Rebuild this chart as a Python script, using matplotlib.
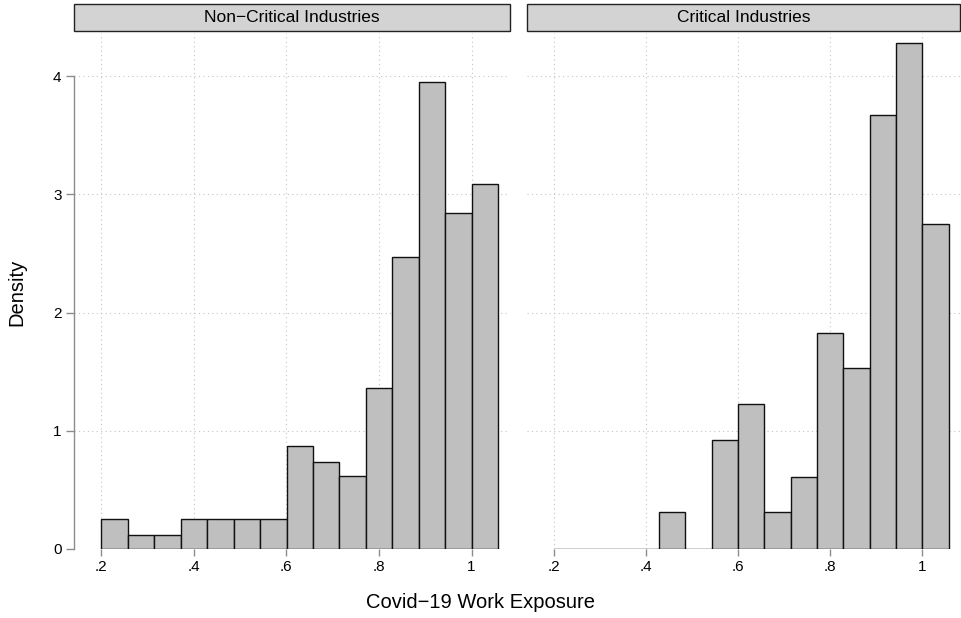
import numpy as np
import matplotlib
matplotlib.use('Agg')
import matplotlib.pyplot as plt
from matplotlib.patches import Rectangle

plt.rcParams['font.family'] = ['Liberation Sans', 'DejaVu Sans']

# shared histogram bins
bin_start = 0.200
bin_width = 0.0572
n_bins = 15

panel_titles = ['Non\u2212Critical Industries', 'Critical Industries']
non_critical = [0.25, 0.12, 0.12, 0.25, 0.25, 0.25, 0.25, 0.87, 0.74, 0.62,
                1.36, 2.47, 3.95, 2.84, 3.09]
critical = [0, 0, 0, 0, 0.31, 0, 0.92, 1.23, 0.31, 0.61,
            1.83, 1.53, 3.67, 4.28, 2.75]

x_ticks = [0.2, 0.4, 0.6, 0.8, 1.0]
x_ticklabels = ['.2', '.4', '.6', '.8', '1']
y_ticks = [0, 1, 2, 3, 4]

edges = bin_start + bin_width * np.arange(n_bins)

fig = plt.figure(figsize=(9.62, 6.18), dpi=100)
H = 618.0
W = 962.0
bottom = 1 - 549 / H
top = 1 - 33 / H
panels = [(74 / W, 510 / W), (527 / W, 960 / W)]

grid_kw = dict(color='#c4c4c4', linewidth=0.8, linestyle=(0, (1, 3)))

for i, (heights, title) in enumerate(zip([non_critical, critical], panel_titles)):
    x0, x1 = panels[i]
    ax = fig.add_axes([x0, bottom, x1 - x0, top - bottom])
    ax.set_xlim(0.1415, 1.083)
    ax.set_ylim(0, 4.364)

    for xv in x_ticks:
        ax.axvline(xv, zorder=0, **grid_kw)
    for yv in y_ticks:
        ax.axhline(yv, zorder=0, **grid_kw)

    ax.bar(edges, heights, width=bin_width, align='edge',
           color='#bfbfbf', edgecolor='#111111', linewidth=1.0, zorder=2)

    for s in ['top', 'right', 'bottom']:
        ax.spines[s].set_visible(False)

    ax.set_xticks(x_ticks)
    ax.set_xticklabels(x_ticklabels, fontsize=11)
    ax.tick_params(axis='x', length=5, width=1, color='#8c8c8c', pad=3)

    ax.set_yticks(y_ticks)
    if i == 0:
        ax.spines['left'].set_bounds(0, 4)
        ax.spines['left'].set_color('#8c8c8c')
        ax.spines['left'].set_linewidth(1)
        ax.set_yticklabels([str(v) for v in y_ticks], fontsize=11)
        ax.tick_params(axis='y', length=6, width=1, color='#8c8c8c', pad=3)
    else:
        ax.spines['left'].set_visible(False)
        ax.tick_params(axis='y', length=0, labelleft=False)

    # panel header strip
    fig.patches.append(Rectangle((x0, 1 - 30.5 / H), x1 - x0, 27 / H,
                                 transform=fig.transFigure, facecolor='#d3d3d3',
                                 edgecolor='#222222', linewidth=1.0))
    fig.text((x0 + x1) / 2, 1 - 17.5 / H, title, ha='center', va='center', fontsize=12.5)

fig.text(481 / W, 1 - 602 / H, 'Covid\u221219 Work Exposure', ha='center', va='center', fontsize=14.5)
fig.text(17 / W, 1 - 292 / H, 'Density', ha='center', va='center', rotation=90, fontsize=14.5)

fig.savefig('out.png', dpi=100)
